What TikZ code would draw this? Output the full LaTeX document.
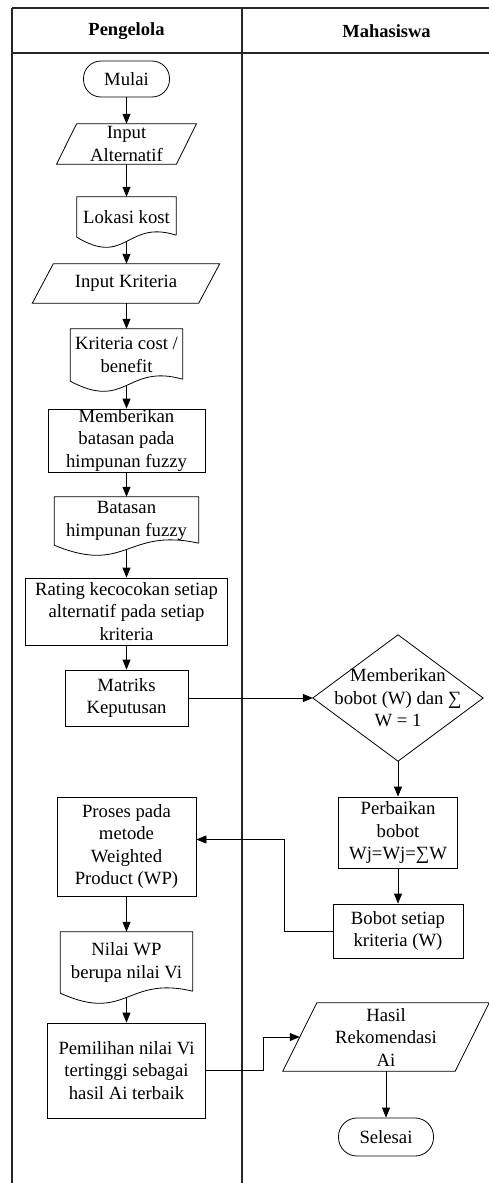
\documentclass[tikz,border=0pt]{standalone}
\usepackage{fontspec}
\setmainfont{Liberation Serif}
\usetikzlibrary{arrows.meta,calc}
\newcommand\paraout[2]{\draw[outline] ($(#1.south west)+(-#2,0)$) -- ($(#1.south east)+(-#2,0)$) -- ($(#1.north east)+(#2,0)$) -- ($(#1.north west)+(#2,0)$) -- cycle;}
\newcommand\docout[1]{\draw[outline] ($(#1.south east)+(0,2)$) -- (#1.north east) -- (#1.north west) -- (#1.south west) .. controls ($(#1.south)+(0,-30)$) and ($(#1.south)+(0,18)$) .. ($(#1.south east)+(0,2)$);}
\begin{document}
\begin{tikzpicture}[x=1pt,y=1pt,
  base/.style={inner sep=0pt, align=center, font=\fontsize{18.7}{22.5}\selectfont},
  procbox/.style={base, draw, line width=0.8pt},
  term/.style={base, draw, line width=0.8pt, rounded corners=17.5pt},
  ghost/.style={base},
  outline/.style={draw, line width=0.8pt},
  flow/.style={line width=0.8pt, -{Triangle[length=10pt,width=8pt]}},
  lane/.style={line width=1.1pt, black!85},
  head/.style={inner sep=0pt, font=\bfseries\fontsize{18.5}{22}\selectfont}]
\useasboundingbox (0,0) rectangle (488,-1183);

% swimlane frame
\draw[lane] (12,-8) -- (490,-8);
\draw[lane] (12,-53) -- (490,-53);
\draw[lane] (12,-8) -- (12,-1185);
\draw[lane] (242,-8) -- (242,-1185);
\node[head] (h1) at (126.5,-31) {Pengelola};
\node[head] (h2) at (386.5,-31) {Mahasiswa};

% left lane
\node[term, minimum width=86pt, minimum height=36pt] (mulai) at (126.5,-79) {Mulai};
\node[ghost, minimum width=119.5pt, minimum height=40pt] (inalt) at (126.5,-144) {Input\\Alternatif};
\paraout{inalt}{10}
\node[ghost, minimum width=99pt, minimum height=40pt] (lok) at (126.5,-217) {Lokasi kost};
\docout{lok}
\node[ghost, minimum width=166pt, minimum height=39pt] (inkrit) at (126,-283.5) {Input Kriteria};
\paraout{inkrit}{10.5}
\node[ghost, minimum width=112pt, minimum height=52pt] (krit) at (126.5,-355) {Kriteria cost /\\benefit};
\docout{krit}
\node[procbox, minimum width=157pt, minimum height=63pt] (memb) at (126.5,-440.5) {Memberikan\\batasan pada\\himpunan fuzzy};
\node[ghost, minimum width=144pt, minimum height=48pt] (bat) at (126.5,-521) {Batasan\\himpunan fuzzy};
\docout{bat}
\node[procbox, minimum width=202pt, minimum height=67pt] (rat) at (126.5,-611.5) {Rating kecocokan setiap\\alternatif pada setiap\\kriteria};
\node[procbox, minimum width=123pt, minimum height=56pt] (mat) at (126.5,-698) {Matriks\\Keputusan};
\node[procbox, minimum width=139pt, minimum height=99pt] (pro) at (126.5,-846.5) {Proses pada\\metode\\Weighted\\Product (WP)};
\node[ghost, minimum width=132pt, minimum height=61pt] (nil) at (126.5,-962.5) {Nilai WP\\berupa nilai Vi};
\docout{nil}
\node[procbox, minimum width=158pt, minimum height=95pt] (pem) at (126.5,-1070.5) {Pemilihan nilai Vi\\tertinggi sebagai\\hasil Ai terbaik};

% right lane
\node[ghost, minimum width=170pt, minimum height=126pt] (dia) at (398,-698) {Memberikan\\bobot (W) dan ∑\\W = 1};
\draw[outline] (dia.north) -- (dia.east) -- (dia.south) -- (dia.west) -- cycle;
\node[procbox, minimum width=119pt, minimum height=71pt] (perb) at (398,-832.5) {Perbaikan\\bobot\\Wj=Wj=∑W};
\node[procbox, minimum width=130pt, minimum height=54pt] (bob) at (398,-931) {Bobot setiap\\kriteria (W)};
\node[ghost, minimum width=172pt, minimum height=68pt] (has) at (386,-1037) {Hasil\\Rekomendasi\\Ai};
\paraout{has}{17}
\node[term, minimum width=95pt, minimum height=38pt, rounded corners=18.5pt] (sel) at (386,-1137) {Selesai};

% connectors
\draw[flow] (mulai.south) -- (inalt.north);
\draw[flow] (inalt.south) -- (lok.north);
\draw[flow] ($(lok.south)+(0,-4.5)$) -- (lok.south |- inkrit.north);
\draw[flow] (lok.south |- inkrit.south) -- (krit.north);
\draw[flow] ($(krit.south)+(0,-4.5)$) -- (memb.north);
\draw[flow] (memb.south) -- (bat.north);
\draw[flow] ($(bat.south)+(0,-4.5)$) -- (rat.north);
\draw[flow] (rat.south) -- (mat.north);
\draw[flow] (mat.east) -- (dia.west);
\draw[flow] (dia.south) -- (perb.north);
\draw[flow] (perb.south) -- (bob.north);
\draw[flow] (bob.west) -- ++(-48,0) |- ($(pro.east)+(0,7)$);
\draw[flow] (pro.south) -- (nil.north);
\draw[flow] ($(nil.south)+(0,-4.5)$) -- (pem.north);
\draw[flow] (pem.east) -- ++(57,0) |- (has.west);
\draw[flow] (has.south) -- (sel.north);
\end{tikzpicture}
\end{document}
